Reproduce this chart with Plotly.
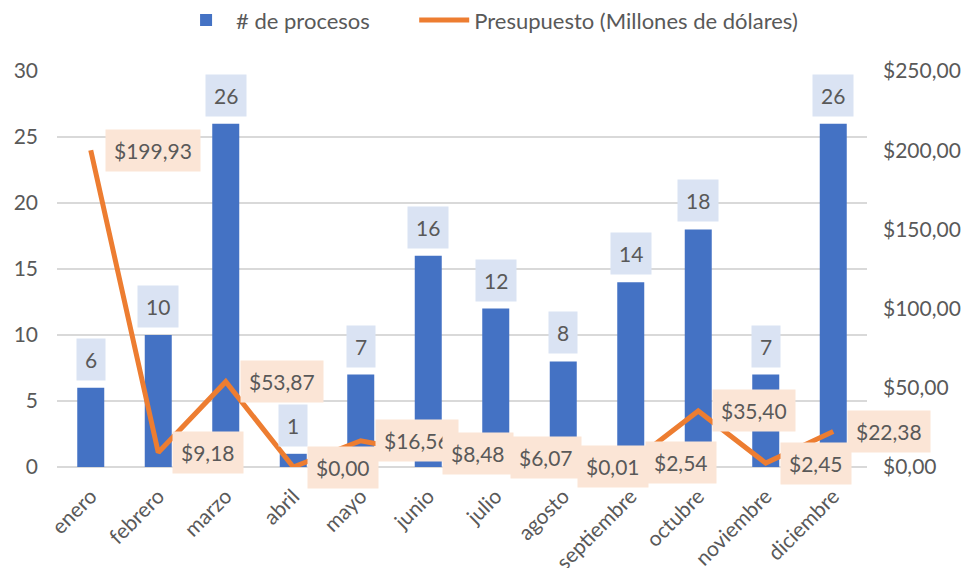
import plotly.graph_objects as go

# ==============================
# Data
# ==============================
meses = ["enero", "febrero", "marzo", "abril", "mayo", "junio", "julio",
         "agosto", "septiembre", "octubre", "noviembre", "diciembre"]
procesos = [6, 10, 26, 1, 7, 16, 12, 8, 14, 18, 7, 26]
presupuesto = [199.93, 9.18, 53.87, 0.00, 16.56, 8.48, 6.07, 0.01, 2.54, 35.40, 2.45, 22.38]

AZUL = "#4472C4"
NARANJA = "#ED7D31"
GRIS = "#595959"
FUENTE = "Lato"
TAM = 21

# ==============================
# Figure
# ==============================
fig = go.Figure()

fig.add_trace(go.Bar(
    x=meses, y=procesos, name="# de procesos",
    marker=dict(color=AZUL, line=dict(width=0)),
    yaxis="y", legend="legend",
))

fig.add_trace(go.Scatter(
    x=meses, y=presupuesto, name="Presupuesto (Millones de dólares)",
    mode="lines", line=dict(color=NARANJA, width=5),
    yaxis="y2", legend="legend2",
))

# data labels with filled boxes (as in Excel)
anotaciones = []
for m, v in zip(meses, procesos):
    anotaciones.append(dict(
        x=m, y=v, xref="x", yref="y", text=str(v), showarrow=False,
        yanchor="bottom", yshift=7, bgcolor="#DAE3F3", borderpad=8,
        font=dict(family=FUENTE, size=TAM, color=GRIS),
    ))
for m, v in zip(meses, presupuesto):
    etiqueta = "$" + f"{v:,.2f}".replace(",", "X").replace(".", ",").replace("X", ".")
    anotaciones.append(dict(
        x=m, y=v, xref="x", yref="y2", text=etiqueta, showarrow=False,
        xanchor="left", yanchor="middle", xshift=14, bgcolor="#FBE5D6", borderpad=8,
        font=dict(family=FUENTE, size=TAM, color=GRIS),
    ))

leyenda = dict(orientation="h", xanchor="left", y=1.128, yanchor="middle",
               font=dict(size=22, color=GRIS), itemwidth=50, bgcolor="rgba(0,0,0,0)")

# page body adds an 8px offset, so the figure is sized to the visible area
fig.update_layout(
    width=963, height=560,
    margin=dict(l=49, r=104, t=63, b=101, autoexpand=False),
    paper_bgcolor="white", plot_bgcolor="white",
    font=dict(family=FUENTE, size=TAM, color=GRIS),
    separators=",.",
    bargap=0.6,
    showlegend=True,
    legend=dict(leyenda, x=0.147),
    legend2=dict(leyenda, x=0.441),
    xaxis=dict(tickangle=-45, showgrid=False, showline=False, ticks="",
               range=[-0.5, len(meses) - 0.5],
               automargin=False, ticklabelstandoff=12,
               tickfont=dict(size=TAM, color=GRIS)),
    yaxis=dict(range=[0, 30], dtick=5, showgrid=True, gridcolor="#D9D9D9", gridwidth=1.5,
               zeroline=True, zerolinecolor="#D9D9D9", zerolinewidth=1.5,
               showline=False, ticks="", automargin=False, ticklabelstandoff=18,
               tickfont=dict(size=TAM, color=GRIS)),
    yaxis2=dict(range=[0, 250], dtick=50, overlaying="y", side="right",
                showgrid=False, zeroline=False, showline=False, ticks="",
                tickprefix="$", tickformat=",.2f", ticklabelstandoff=15,
                automargin=False, tickfont=dict(size=TAM, color=GRIS)),
    annotations=anotaciones,
)

fig.write_html("out.html")
